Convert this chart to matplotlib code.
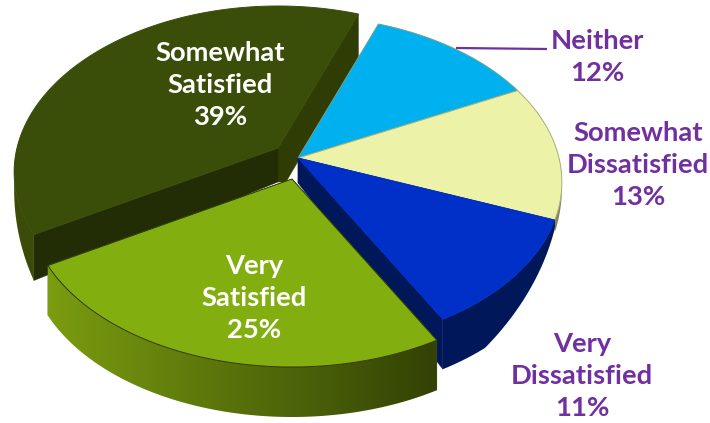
import numpy as np
import matplotlib
matplotlib.use('Agg')
import matplotlib.pyplot as plt
from matplotlib.colors import to_rgb
from matplotlib.patches import Polygon

# data, going clockwise from the back
names = ['Neither', 'Somewhat\nDissatisfied', 'Very\nDissatisfied', 'Very\nSatisfied', 'Somewhat\nSatisfied']
values = [12, 13, 11, 25, 39]

# look of every slice
apex_x = [298, 298, 298, 292, 278]
apex_y = [158, 158, 158, 179, 148]
apex_depth = [25, 25, 25, 50, 34]
cut_depth_first = [0, 0, 7, 50, 46]
cut_depth_last = [0, 0, 50, 50, 44]
cut_shift = [0, 0, 0, 0, 8]  # the lower inner corner of the last cut moves right a bit
rim_depth = [0, 12, 50, 50, 47]
wall_zero = [69, 5, -15, 0, -185]   # angle where the outer wall has no height yet
wall_full = [26, -20, -50, -1, -150]  # angle where it has its full height
top_colors = ['#00b0ef', '#ecf2a8', '#0030c8', '#82ae10', '#3b4e09']
edge_colors = ['#6fa58c', '#a9ad78', '#0030c8', '#2c3a04', '#3b4e09']
cut_first = ['#0080b0', '#a0a070', '#00185a', '#56720c', '#222d05']
cut_last = ['#0080b0', '#a0a070', '#00185a', '#56720c', '#2f3d05']
rim_left = ['#0080b0', '#6a6a48', '#00185a', '#7a9c10', '#3c4c08']
rim_right = ['#0080b0', '#8a8a60', '#00185a', '#334205', '#3c4c08']
draw_order = [4, 0, 1, 2, 3]

text_colors = ['#7030a0', '#7030a0', '#7030a0', 'white', 'white']
text_x = [597, 638, 582, 254, 220]
text_y = [57, 165, 376, 298, 85]

start_angle = 69


def rim(t):
    # ellipse with some perspective, the front is bigger
    s = np.sin(t)
    return 261 * np.cos(t) * (1 - 0.15 * s), s * (165 - 23 * s)


fig = plt.figure(figsize=(7.10, 4.23), dpi=100)
ax = fig.add_axes([0, 0, 1, 1])

spans = np.array(values) / sum(values) * 360
ends = start_angle - np.cumsum(spans)
starts = ends + spans

z = 1
for i in draw_order:
    cx, cy = apex_x[i], apex_y[i]
    deg = np.linspace(starts[i], ends[i], 121)
    dx, dy = rim(np.radians(deg))
    px, py = cx + dx, cy - dy

    # flat walls at the cuts
    d0 = apex_depth[i]
    if cut_depth_first[i]:
        ax.fill([cx, px[-1], px[-1], cx + cut_shift[i], cx], [cy, py[-1], py[-1] + cut_depth_last[i], cy + d0, cy + d0],
                color=cut_last[i], lw=0.3, zorder=z)
        ax.fill([cx, px[0], px[0], cx], [cy, py[0], py[0] + cut_depth_first[i], cy + d0],
                color=cut_first[i], lw=0.3, zorder=z)
        z += 1

    # outer wall with a shading from left to right
    if rim_depth[i]:
        h = rim_depth[i] * np.clip((deg - wall_zero[i]) / (wall_full[i] - wall_zero[i]), 0, 1)
        outline = np.r_[np.c_[px, py], np.c_[px, py + h][::-1]]
        shade = np.linspace(to_rgb(rim_left[i]), to_rgb(rim_right[i]), 64)[np.newaxis]
        im = ax.imshow(shade, extent=[px.min(), px.max(), outline[:, 1].max(), outline[:, 1].min()],
                       aspect='auto', interpolation='bilinear', zorder=z)
        im.set_clip_path(Polygon(outline, transform=ax.transData))
        z += 1

    # top face
    ax.fill(np.r_[cx, px], np.r_[cy, py], facecolor=top_colors[i], edgecolor=edge_colors[i], lw=0.7, zorder=z)
    z += 1

# leader line of Neither
ax.plot([456, 547], [48, 49], color='#7030a0', lw=1.6, solid_capstyle='butt', zorder=z)

for i in range(len(names)):
    ax.text(text_x[i], text_y[i], f'{names[i]}\n{values[i]}%', color=text_colors[i],
            family='Lato', weight='bold', fontsize=19.7, ha='center', va='center',
            linespacing=1.38, zorder=z)

ax.set_xlim(0, 710)
ax.set_ylim(423, 0)
ax.axis('off')

fig.savefig('out.png', dpi=100)
